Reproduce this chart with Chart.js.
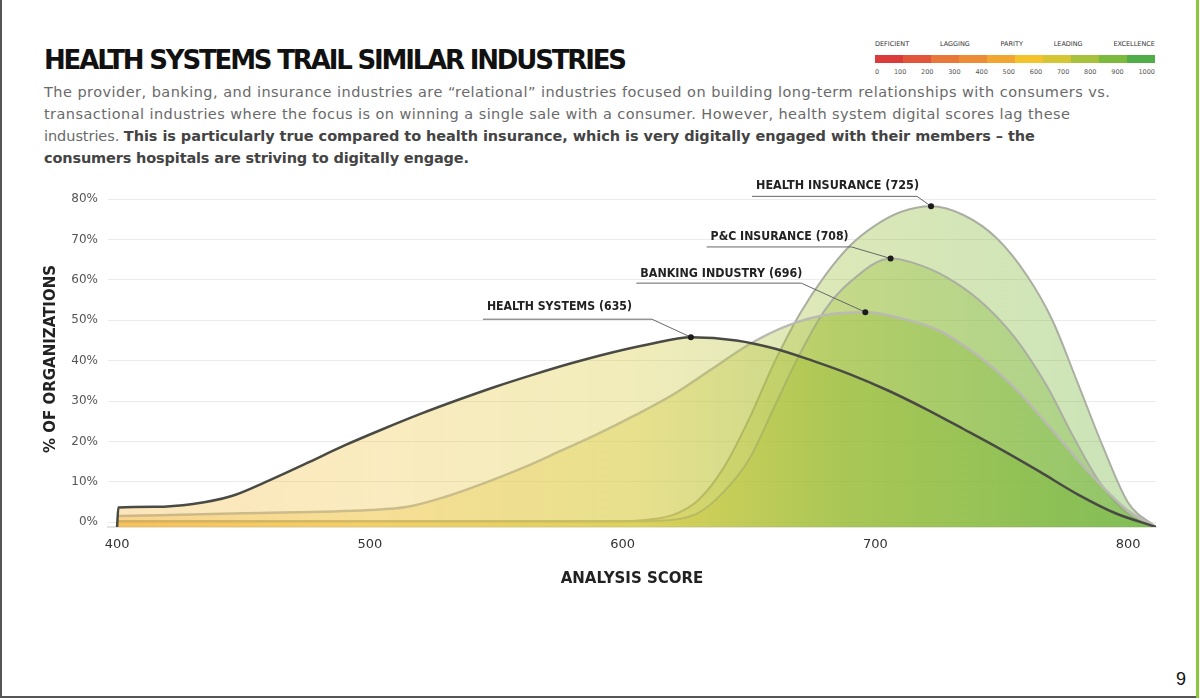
<!DOCTYPE html>
<html>
<head>
<meta charset="utf-8">
<title>Health Systems Trail Similar Industries</title>
<script src="https://cdn.jsdelivr.net/npm/chart.js@4.4.0/dist/chart.umd.min.js"></script>
<style>
  html, body { margin: 0; padding: 0; background: #fff; }
  body { width: 1200px; height: 698px; position: relative; overflow: hidden; font-family: "DejaVu Sans", sans-serif; }
  .edge-left { position: absolute; left: 0; top: 0; width: 2px; height: 698px; background: #555; }
  .edge-bottom { position: absolute; left: 0; top: 696px; width: 1197px; height: 2px; background: #555; }
  .edge-right { position: absolute; left: 1196px; top: 0; width: 3px; height: 698px; background: #8cc63f; }
  h1 { position: absolute; left: 44px; top: 43px; margin: 0; font-size: 26px; line-height: 34px; font-weight: bold; color: #111; white-space: nowrap; }
  .line { position: absolute; left: 44px; font-size: 14.5px; line-height: 22px; color: #6a6a6a; white-space: nowrap; }
  .line b { color: #444; }
  #scale { position: absolute; left: 875px; top: 40px; width: 280px; }
  #scale .names, #scale .nums { display: flex; justify-content: space-between; font-size: 6.5px; color: #333; white-space: nowrap; }
  #scale .bar { display: flex; height: 8px; margin: 7px 0 5px; }
  #scale .bar div { flex: 1; }
  #scale .nums { color: #555; }
  #chartBox { position: absolute; left: 0; top: 170px; width: 1180px; height: 430px; }
  .pageno { position: absolute; left: 1176px; top: 669px; font-family: "Liberation Sans", Arial, sans-serif; font-size: 18px; color: #111; }
</style>
</head>
<body>
<div class="edge-left"></div>
<div class="edge-bottom"></div>
<div class="edge-right"></div>

<h1 class="fit" data-w="583">HEALTH SYSTEMS TRAIL SIMILAR INDUSTRIES</h1>
<div class="line fit" data-w="1066" style="top:81px">The provider, banking, and insurance industries are “relational” industries focused on building long-term relationships with consumers vs.</div>
<div class="line fit" data-w="1026" style="top:103px">transactional industries where the focus is on winning a single sale with a consumer. However, health system digital scores lag these</div>
<div class="line fit" data-w="991" style="top:125px">industries. <b>This is particularly true compared to health insurance, which is very digitally engaged with their members – the</b></div>
<div class="line fit" data-w="425" style="top:147px"><b>consumers hospitals are striving to digitally engage.</b></div>

<div id="scale">
  <div class="names"></div>
  <div class="bar"></div>
  <div class="nums"></div>
</div>

<div id="chartBox"><canvas id="chart"></canvas></div>
<div class="pageno">9</div>

<script>
// distribution curves (score -> % of organizations)
const hsScores = [400, 400.5, 415, 430, 445, 460, 475, 490, 505, 520, 535, 550, 565, 580, 595, 610, 627, 645, 660, 675, 690, 705, 720, 735, 750, 765, 780, 795, 811];
const hsShare  = [-1.2, 3.6, 3.8, 4.5, 6.4, 10.3, 14.6, 19.0, 23.0, 26.8, 30.3, 33.6, 36.6, 39.4, 41.9, 44.0, 45.8, 45.0, 43.0, 40.0, 36.6, 32.6, 28.0, 23.0, 17.9, 12.5, 6.9, 2.2, -1.2];

const bankScores = [400, 450, 500, 515, 530, 545, 560, 575, 590, 605, 620, 635, 650, 665, 680, 696, 710, 725, 740, 755, 770, 785, 800, 811];
const bankShare  = [1.5, 2.2, 3.0, 3.8, 6.3, 9.6, 13.3, 17.5, 21.8, 26.5, 31.6, 37.8, 44.0, 48.6, 51.3, 52, 50.5, 47.5, 41.5, 33.3, 22.8, 12, 2.8, -1.2];

const pcScores = [400, 600, 620, 630, 640, 650, 660, 670, 680, 690, 706, 715, 728, 741, 755, 768, 778, 789, 800, 811];
const pcShare  = [0.2, 0.2, 0.6, 2.3, 7.5, 15.5, 28.5, 41.5, 52.5, 59.5, 65.3, 64.2, 60.7, 55, 45.8, 33.5, 21.5, 9.6, 2, -1.2];

const hiScores = [400, 595, 610, 620, 630, 640, 650, 660, 670, 680, 690, 700, 710, 722, 735, 748, 760, 770, 780, 790, 800, 811];
const hiShare  = [0.2, 0.2, 0.6, 1.8, 5.5, 13.5, 25.5, 39.5, 51.5, 61, 68.5, 73.5, 76.8, 78.2, 76, 70.3, 61, 50, 34.5, 18.7, 4.8, -1.2];

const seriesNames = ['HEALTH SYSTEMS (635)', 'BANKING INDUSTRY (696)', 'P&C INSURANCE (708)', 'HEALTH INSURANCE (725)'];
const xTicks = [400, 500, 600, 700, 800];
const yTicks = [0, 10, 20, 30, 40, 50, 60, 70, 80];

// maturity scale in the top right corner
const scaleNames = ['DEFICIENT', 'LAGGING', 'PARITY', 'LEADING', 'EXCELLENCE'];
const scaleTicks = [0, 100, 200, 300, 400, 500, 600, 700, 800, 900, 1000];
const scaleColors = ['#dc3b3c', '#e1553a', '#e8773a', '#ec8c36', '#f0a631', '#f2c32b', '#d6c634', '#a7c13c', '#7cba3e', '#4fae48'];

const box = document.getElementById('scale');
box.querySelector('.names').innerHTML = scaleNames.map(n => `<span>${n}</span>`).join('');
box.querySelector('.bar').innerHTML = scaleColors.map(c => `<div style="background:${c}"></div>`).join('');
box.querySelector('.nums').innerHTML = scaleTicks.map(n => `<span>${n}</span>`).join('');

// squeeze/stretch text lines so they end where the original ones do
document.querySelectorAll('.fit').forEach(el => {
    const w = el.getBoundingClientRect().width;
    const n = el.textContent.length;
    el.style.letterSpacing = ((+el.dataset.w - w) / (n - 1)).toFixed(3) + 'px';
});

function toPoints(xs, ys) {
    return xs.map((x, i) => ({ x: x, y: ys[i] }));
}

// yellow -> green wash shared by every area
function areaFill(context) {
    const area = context.chart.chartArea;
    if (!area) return 'rgba(200,195,60,0.33)';
    const g = context.chart.ctx.createLinearGradient(area.left, 0, area.right, 0);
    g.addColorStop(0, 'rgba(244,176,46,0.33)');
    g.addColorStop(0.25, 'rgba(240,196,62,0.33)');
    g.addColorStop(0.5, 'rgba(214,200,52,0.34)');
    g.addColorStop(0.7, 'rgba(150,186,46,0.34)');
    g.addColorStop(1, 'rgba(100,176,50,0.35)');
    return g;
}

// label offsets (px) from each curve's peak
const callouts = [
    { dx: -204, dy: -30, lineDy: -18, lineEnd: -39, w: 145 },
    { dx: -225, dy: -38, lineDy: -29, lineEnd: -64, w: 162 },
    { dx: -180, dy: -21.5, lineDy: -11.5, lineEnd: -39, w: 138 },
    { dx: -175, dy: -20, lineDy: -10, lineEnd: -14, w: 163 }
];

const peakLabels = {
    id: 'peakLabels',
    afterDatasetsDraw(chart) {
        const { ctx, scales: { x, y } } = chart;
        chart.data.datasets.forEach((ds, i) => {
            const c = callouts[i];
            const peak = ds.data.reduce((m, p) => p.y > m.y ? p : m);
            const px = x.getPixelForValue(peak.x);
            const py = y.getPixelForValue(peak.y);
            const tx = px + c.dx;
            ctx.save();
            ctx.strokeStyle = '#666';
            ctx.lineWidth = 1;
            ctx.beginPath();
            ctx.moveTo(tx - 4, py + c.lineDy);
            ctx.lineTo(px + c.lineEnd, py + c.lineDy);
            ctx.lineTo(px, py);
            ctx.stroke();
            ctx.fillStyle = '#1c1c1c';
            ctx.beginPath();
            ctx.arc(px, py, 3, 0, Math.PI * 2);
            ctx.fill();
            ctx.font = 'bold 12px "DejaVu Sans"';
            ctx.textBaseline = 'middle';
            ctx.fillStyle = '#222';
            ctx.fillText(ds.label, tx, py + c.dy, c.w);
            ctx.restore();
        });
    }
};

Chart.defaults.font.family = '"DejaVu Sans", sans-serif';

const common = {
    fill: 'start',
    backgroundColor: areaFill,
    pointRadius: 0,
    pointHoverRadius: 0,
    cubicInterpolationMode: 'monotone'
};

new Chart(document.getElementById('chart'), {
    type: 'line',
    data: {
        datasets: [
            Object.assign({ label: seriesNames[0], data: toPoints(hsScores, hsShare), borderColor: '#4a4a44', borderWidth: 2.5 }, common),
            Object.assign({ label: seriesNames[1], data: toPoints(bankScores, bankShare), borderColor: '#babab2', borderWidth: 2.5 }, common),
            Object.assign({ label: seriesNames[2], data: toPoints(pcScores, pcShare), borderColor: '#abafa2', borderWidth: 2 }, common),
            Object.assign({ label: seriesNames[3], data: toPoints(hiScores, hiShare), borderColor: '#abafa2', borderWidth: 2 }, common)
        ]
    },
    options: {
        responsive: true,
        maintainAspectRatio: false,
        animation: false,
        layout: { padding: { left: 38, right: 24, top: 21, bottom: 8 } },
        plugins: {
            legend: { display: false },
            tooltip: { enabled: false }
        },
        scales: {
            x: {
                type: 'linear',
                min: 396.4,
                max: 811,
                afterBuildTicks: axis => { axis.ticks = xTicks.map(v => ({ value: v })); },
                afterFit: axis => { axis.height = 65; },
                ticks: { color: '#333', font: { size: 13 }, padding: 10, maxRotation: 0, autoSkip: false },
                grid: { display: false, drawTicks: false },
                border: { display: true, color: '#e3e3e3', width: 2 },
                title: { display: true, text: 'ANALYSIS SCORE', color: '#222', font: { size: 15, weight: 'bold' }, padding: { top: 4, bottom: 4 } }
            },
            y: {
                min: -1.2,
                max: 82,
                afterBuildTicks: axis => { axis.ticks = yTicks.map(v => ({ value: v })); },
                afterFit: axis => { axis.width = 70; },
                ticks: { color: '#555', font: { size: 12 }, padding: 10, callback: v => v + '%' },
                grid: { color: '#ebebeb', drawTicks: false },
                border: { display: false },
                title: { display: true, text: '% OF ORGANIZATIONS', color: '#222', font: { size: 15, weight: 'bold' }, padding: { top: 4, bottom: 4 } }
            }
        }
    },
    plugins: [peakLabels]
});
</script>
</body>
</html>
